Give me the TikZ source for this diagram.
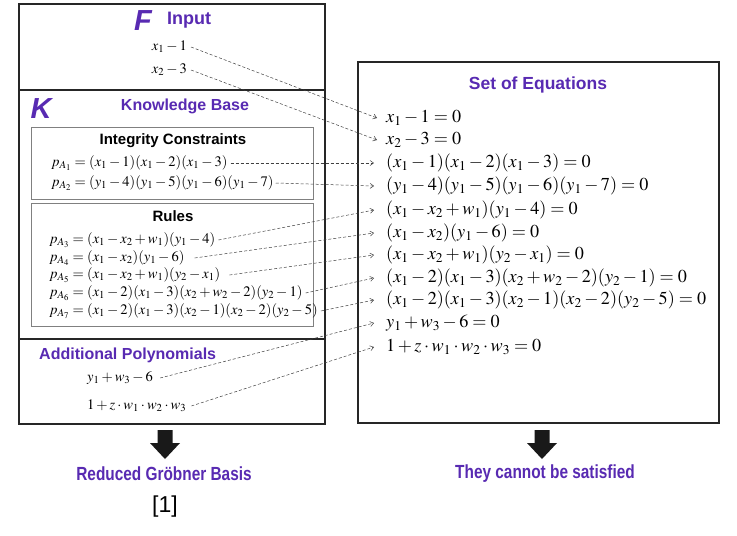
\documentclass[tikz,border=0pt]{standalone}
\usepackage{mathptmx}
\usepackage{fontspec}
\setmainfont{Liberation Serif}
\setsansfont{Liberation Sans}
\usetikzlibrary{arrows.meta}
\definecolor{purp}{RGB}{88,42,178}
\begin{document}
\begin{tikzpicture}[x=1pt,y=-1pt,
  frame/.style={draw=black!85, line width=1.5pt},
  innerbox/.style={draw=black!50, line width=1pt},
  ttl/.style={font=\sffamily\bfseries\fontsize{16}{18}\selectfont, text=purp, inner sep=0pt},
  blk/.style={font=\sffamily\bfseries\fontsize{15}{17}\selectfont, text=black, inner sep=0pt},
  big/.style={font=\sffamily\bfseries\itshape\fontsize{29}{30}\selectfont, text=purp, inner sep=0pt},
  leq/.style={font=\fontsize{14.5}{16}\selectfont, inner sep=1pt},
  req/.style={font=\fontsize{18.2}{20}\selectfont, inner sep=0pt, anchor=west},
  res/.style={font=\sffamily\bfseries\fontsize{19}{21}\selectfont, text=purp, inner sep=0pt, xscale=0.81},
  link/.style={dash pattern=on 3pt off 2pt, draw=black!75, line width=0.5pt, -{Straight Barb[length=3.5pt,width=5pt]}},
  fat/.style={fill=black!90, draw=none}
]
\useasboundingbox (0,0) rectangle (737,536);
\fill[white] (0,0) rectangle (737,536);

% left frame
\draw[frame] (19,4) rectangle (325,424);
\draw[frame] (19,90) -- (325,90);
\draw[frame] (19,339) -- (325,339);
\draw[innerbox] (31,127) rectangle (313,199);
\draw[innerbox] (31,203) rectangle (313,326);

% right frame
\draw[frame] (358,62) rectangle (719,423);

% F section
\node[big] (F) at (143,21) {F};
\node[ttl, font=\sffamily\bfseries\fontsize{18}{20}\selectfont, anchor=west] (input) at (167,20) {Input};
\node[leq, anchor=east] (f1) at (188,47) {$x_1-1$};
\node[leq, anchor=east] (f2) at (188,70) {$x_2-3$};

% K section
\node[big] (K) at (41,109) {K};
\node[ttl] (kb) at (185,106) {Knowledge Base};
\node[blk] (ic) at (173,141) {Integrity Constraints};
\node[leq, anchor=west] (a1) at (50,163) {$p_{A_1}=(x_1-1)(x_1-2)(x_1-3)$};
\node[leq, anchor=west] (a2) at (50,183) {$p_{A_2}=(y_1-4)(y_1-5)(y_1-6)(y_1-7)$};
\node[blk] (rules) at (173,216) {Rules};
\node[leq, anchor=west] (a3) at (48,240) {$p_{A_3}=(x_1-x_2+w_1)(y_1-4)$};
\node[leq, anchor=west] (a4) at (48,258) {$p_{A_4}=(x_1-x_2)(y_1-6)$};
\node[leq, anchor=west] (a5) at (48,275) {$p_{A_5}=(x_1-x_2+w_1)(y_2-x_1)$};
\node[leq, anchor=west] (a6) at (48,293) {$p_{A_6}=(x_1-2)(x_1-3)(x_2+w_2-2)(y_2-1)$};
\node[leq, anchor=west] (a7) at (48,311) {$p_{A_7}=(x_1-2)(x_1-3)(x_2-1)(x_2-2)(y_2-5)$};

% Additional
\node[ttl, anchor=west] (add) at (39,355) {Additional Polynomials};
\node[leq, anchor=west] (b1) at (86,378) {$y_1+w_3-6$};
\node[leq, anchor=west] (b2) at (86,406) {$1+z\cdot w_1\cdot w_2\cdot w_3$};

% Right side
\node[ttl, font=\sffamily\bfseries\fontsize{17.5}{20}\selectfont] (soe) at (538,85) {Set of Equations};
\node[req] (e1) at (386,118) {$x_1-1=0$};
\node[req] (e2) at (386,140) {$x_2-3=0$};
\node[req] (e3) at (386,163) {$(x_1-1)(x_1-2)(x_1-3)=0$};
\node[req] (e4) at (386,186) {$(y_1-4)(y_1-5)(y_1-6)(y_1-7)=0$};
\node[req] (e5) at (386,210) {$(x_1-x_2+w_1)(y_1-4)=0$};
\node[req] (e6) at (386,233) {$(x_1-x_2)(y_1-6)=0$};
\node[req] (e7) at (386,255) {$(x_1-x_2+w_1)(y_2-x_1)=0$};
\node[req] (e8) at (386,278) {$(x_1-2)(x_1-3)(x_2+w_2-2)(y_2-1)=0$};
\node[req] (e9) at (386,300) {$(x_1-2)(x_1-3)(x_2-1)(x_2-2)(y_2-5)=0$};
\node[req] (e10) at (386,323) {$y_1+w_3-6=0$};
\node[req] (e11) at (386,347) {$1+z\cdot w_1\cdot w_2\cdot w_3=0$};

% connectors
\draw[link] ([xshift=3pt]f1.east) -- ([xshift=-9pt]e1.west);
\draw[link] ([xshift=3pt]f2.east) -- ([xshift=-9pt]e2.west);
\draw[link] ([xshift=2pt]a1.east) -- ([xshift=-12pt]e3.west);
\draw[link] ([xshift=1pt]a2.east) -- ([xshift=-12pt]e4.west);
\draw[link] ([xshift=2pt]a3.east) -- ([xshift=-12pt]e5.west);
\draw[link] ([xshift=9pt]a4.east) -- ([xshift=-12pt]e6.west);
\draw[link] ([xshift=8pt]a5.east) -- ([xshift=-12pt]e7.west);
\draw[link] ([xshift=2pt]a6.east) -- ([xshift=-12pt]e8.west);
\draw[link] ([xshift=2pt]a7.east) -- ([xshift=-12pt]e9.west);
\draw[link] ([xshift=6pt]b1.east) -- ([xshift=-12pt]e10.west);
\draw[link] ([xshift=4pt]b2.east) -- ([xshift=-12pt]e11.west);

% bottom arrows
\fill[fat] (157.5,430) -- (172.5,430) -- (172.5,443) -- (180,443) -- (165,459) -- (150,443) -- (157.5,443) -- cycle;
\fill[fat] (534.5,430) -- (549.5,430) -- (549.5,443) -- (557,443) -- (542,459) -- (527,443) -- (534.5,443) -- cycle;
\node[res] (rgb) at (164,474) {Reduced Gröbner Basis};
\node[font=\sffamily\fontsize{23}{24}\selectfont, inner sep=0pt] (ref) at (165,507) {[1]};
\node[res] (cns) at (545,474) {They cannot be satisfied};
\end{tikzpicture}
\end{document}
